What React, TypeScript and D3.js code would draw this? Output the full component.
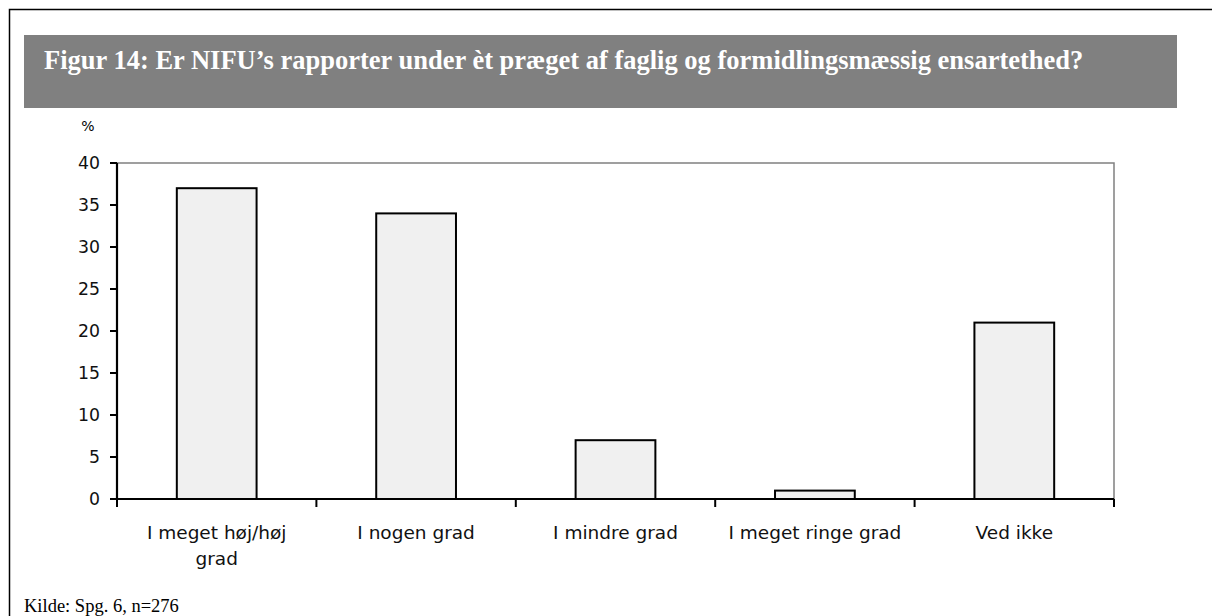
import React from "react";
import * as d3 from "d3";

const title = "Figur 14: Er NIFU’s rapporter under èt præget af faglig og formidlingsmæssig ensartethed?";
const source = "Kilde: Spg. 6, n=276";
const yUnit = "%";
const categories = ["I meget høj/høj\ngrad", "I nogen grad", "I mindre grad", "I meget ringe grad", "Ved ikke"];
const values = [37, 34, 7, 1, 21];
const yTicks = [0, 5, 10, 15, 20, 25, 30, 35, 40];

const W = 1212;
const H = 616;
const plot = { left: 117, right: 1114, top: 163, bottom: 499 };
const tickFont = "'DejaVu Sans', sans-serif";
const serif = "'Liberation Serif', 'Times New Roman', serif";

export default function App() {
  const x = d3
    .scaleBand<string>()
    .domain(categories)
    .range([plot.left, plot.right])
    .paddingInner(0.6)
    .paddingOuter(0.3);
  const band = (plot.right - plot.left) / categories.length;
  const y = d3.scaleLinear().domain([0, 40]).range([plot.bottom, plot.top]);

  return (
    <svg
      width={W}
      height={H}
      style={{ position: "absolute", left: 0, top: 0, background: "#fff" }}
    >
      {/* outer frame */}
      <path d={`M9.5,${H + 5} V9.5 H${W + 5}`} fill="none" stroke="#000" strokeWidth={1.5} />
      {/* title banner */}
      <rect x={24} y={35} width={1153} height={73} fill="#808080" />
      <text x={44} y={69} fill="#fff" fontFamily={serif} fontWeight="bold" fontSize={26.5}>
        {title}
      </text>
      {/* unit */}
      <text x={88} y={131} fontFamily={tickFont} fontSize={14} textAnchor="middle">
        {yUnit}
      </text>
      {/* plot frame (top, right) */}
      <path
        d={`M${plot.left},${plot.top} H${plot.right} V${plot.bottom}`}
        fill="none"
        stroke="#808080"
        strokeWidth={1.5}
      />
      {/* bars */}
      {categories.map((c, i) => (
        <rect
          key={c}
          x={x(c)}
          y={y(values[i])}
          width={x.bandwidth()}
          height={y(0) - y(values[i])}
          fill="#f0f0f0"
          stroke="#000"
          strokeWidth={2}
        />
      ))}
      {/* y axis */}
      <line x1={plot.left} x2={plot.left} y1={plot.top} y2={plot.bottom} stroke="#000" strokeWidth={2.2} />
      {yTicks.map((t) => (
        <g key={t}>
          <line x1={plot.left - 7} x2={plot.left} y1={y(t)} y2={y(t)} stroke="#000" strokeWidth={2} />
          <text
            x={100}
            y={y(t)}
            dy="0.36em"
            textAnchor="end"
            fontFamily={tickFont}
            fontSize={17.3}
            fill="#111"
          >
            {t}
          </text>
        </g>
      ))}
      {/* x axis */}
      <line x1={plot.left} x2={plot.right} y1={plot.bottom} y2={plot.bottom} stroke="#000" strokeWidth={2.2} />
      {d3.range(categories.length + 1).map((i) => (
        <line
          key={i}
          x1={plot.left + i * band}
          x2={plot.left + i * band}
          y1={plot.bottom}
          y2={plot.bottom + 8}
          stroke="#000"
          strokeWidth={2}
        />
      ))}
      {categories.map((c) => (
        <text
          key={c}
          x={(x(c) ?? 0) + x.bandwidth() / 2}
          y={539}
          textAnchor="middle"
          fontFamily={tickFont}
          fontSize={18.5}
          fill="#111"
        >
          {c.split("\n").map((line, j) => (
            <tspan key={j} x={(x(c) ?? 0) + x.bandwidth() / 2} dy={j === 0 ? 0 : 26}>
              {line}
            </tspan>
          ))}
        </text>
      ))}
      {/* source */}
      <text x={24} y={612} fontFamily={serif} fontSize={18.5}>
        {source}
      </text>
    </svg>
  );
}
